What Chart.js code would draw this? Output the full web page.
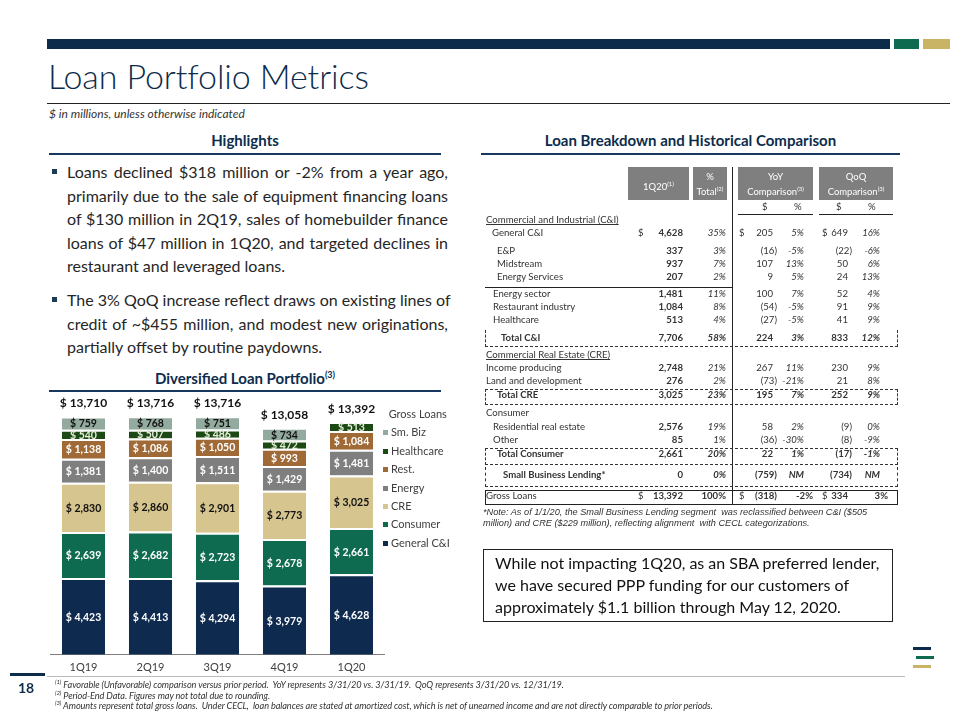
<!DOCTYPE html>
<html lang="en">
<head>
<meta charset="UTF-8">
<title>Loan Portfolio Metrics</title>
<script src="https://cdn.jsdelivr.net/npm/chart.js@4"></script>
<style>
  body { margin: 0; width: 960px; height: 720px; position: relative; background: #fff; font-family: Lato, "Open Sans", sans-serif; color: #262626; overflow: hidden; }
  .abs { position: absolute; }
  .navy { color: #0d2c4c; }
  .head { font-weight: bold; color: #0d2c4c; font-size: 15px; text-align: center; }
  .bullets { left: 52px; top: 160px; width: 396px; font-size: 16px; line-height: 23.6px; color: #262626; }
  .bullets p { margin: 0 0 10px 0; padding-left: 15px; position: relative; }
  .bullets p:before { content: ""; position: absolute; left: 0; top: 9px; width: 5px; height: 5px; background: #1f3a55; }
  .bullets span { display: block; white-space: nowrap; text-align: justify; text-align-last: justify; }
  .bullets span.last { text-align: left; text-align-last: left; }
  .legend { left: 383px; top: 406px; font-size: 11px; color: #404040; }
  .legend div { height: 18.4px; line-height: 16px; white-space: nowrap; }
  .legend span { display: inline-block; width: 5px; height: 5px; margin-right: 3px; vertical-align: 1px; }
  .tbl { font-size: 9.6px; color: #333; }
  .tbl div { position: absolute; white-space: nowrap; }
  .hbox { background: #7f7f7f; color: #fff; text-align: center; font-size: 9.5px; line-height: 12px; }
  .hbox sup { font-size: 6px; }
  .dot { border: 1px dashed #333; }
  .foot { font-size: 9.2px; font-style: italic; color: #333; left: 55px; white-space: nowrap; letter-spacing: -0.1px; }
  .foot sup { font-size: 6px; }
</style>
</head>
<body>
<!-- top bars -->
<div class="abs" style="left:47px;top:39px;width:843px;height:10px;background:#0d2c4c"></div>
<div class="abs" style="left:894px;top:39px;width:25px;height:10px;background:#0f6b50"></div>
<div class="abs" style="left:923px;top:39px;width:27px;height:10px;background:#c9b466"></div>

<div class="abs navy" style="left:48px;top:55px;font-size:34px;font-weight:300;letter-spacing:-0.1px">Loan Portfolio Metrics</div>
<div class="abs" style="left:47px;top:103px;width:903px;height:1px;background:#222"></div>
<div class="abs" style="left:49px;top:106px;font-size:12px;font-style:italic;color:#333">$ in millions, unless otherwise indicated</div>

<!-- left column -->
<div class="abs head" style="left:49px;top:131px;width:392px">Highlights</div>
<div class="abs" style="left:49px;top:153px;width:392px;height:2px;background:#17375e"></div>
<div class="abs bullets">
  <p><span>Loans declined $318 million or -2% from a year ago,</span><span>primarily due to the sale of equipment financing loans</span><span>of $130 million in 2Q19, sales of homebuilder finance</span><span>loans of $47 million in 1Q20, and targeted declines in</span><span class="last">restaurant and leveraged loans.</span></p>
  <p><span>The 3% QoQ increase reflect draws on existing lines of</span><span>credit of ~$455 million, and modest new originations,</span><span class="last">partially offset by routine paydowns.</span></p>
</div>
<div class="abs head" style="left:49px;top:369px;width:392px">Diversified Loan Portfolio<sup style="font-size:9px">(3)</sup></div>
<div class="abs" style="left:49px;top:390px;width:392px;height:2px;background:#17375e"></div>

<canvas id="loanChart" class="abs" style="left:50px;top:394px" width="335" height="286"></canvas>
<div class="abs legend" id="legend"></div>

<!-- right column -->
<div class="abs head" style="left:481px;top:131px;width:419px">Loan Breakdown and Historical Comparison</div>
<div class="abs" style="left:481px;top:153px;width:419px;height:2px;background:#17375e"></div>
<div class="abs tbl" id="tbl" style="left:0;top:0;width:960px;height:720px"></div>

<div class="abs" style="left:483px;top:549px;width:408px;height:71px;border:1px solid #222;"></div>
<div class="abs" style="left:495px;top:552px;font-size:16px;line-height:22px;color:#111">While not impacting 1Q20, as an SBA preferred lender,<br>we have secured PPP funding for our customers of<br>approximately $1.1 billion through May 12, 2020.</div>

<!-- footer -->
<div class="abs" style="left:10px;top:673px;width:35px;height:3px;background:#0d2c4c"></div>
<div class="abs" style="left:47px;top:676px;width:858px;height:1px;background:#bbb"></div>
<div class="abs navy" style="left:18px;top:679px;font-size:14px;font-weight:bold">18</div>
<div class="abs foot" style="top:678px"><sup>(1)</sup> Favorable (Unfavorable) comparison versus prior period.&nbsp; YoY represents 3/31/20 vs. 3/31/19.&nbsp; QoQ represents 3/31/20 vs. 12/31/19.</div>
<div class="abs foot" style="top:689px"><sup>(2)</sup> Period-End Data. Figures may not total due to rounding.</div>
<div class="abs foot" style="top:699px"><sup>(3)</sup> Amounts represent total gross loans.&nbsp; Under CECL,&nbsp; loan balances are stated at amortized cost, which is net of unearned income and are not directly comparable to prior periods.</div>
<div class="abs" style="left:913px;top:647px;width:18px;height:3px;background:#0d2c4c"></div>
<div class="abs" style="left:916px;top:656px;width:18px;height:3px;background:#0f6b50"></div>
<div class="abs" style="left:913px;top:665px;width:18px;height:3px;background:#c9b466"></div>

<script>
const quarters = ['1Q19', '2Q19', '3Q19', '4Q19', '1Q20'];
const generalCI = [4423, 4413, 4294, 3979, 4628];
const consumer = [2639, 2682, 2723, 2678, 2661];
const cre = [2830, 2860, 2901, 2773, 3025];
const energy = [1381, 1400, 1511, 1429, 1481];
const restaurant = [1138, 1086, 1050, 993, 1084];
const healthcare = [540, 507, 486, 472, 513];
const smallBiz = [759, 768, 751, 734, null];
const grossLoans = [13710, 13716, 13716, 13058, 13392];

const seriesNames = ['General C&I', 'Consumer', 'CRE', 'Energy', 'Rest.', 'Healthcare', 'Sm. Biz'];
const seriesData = [generalCI, consumer, cre, energy, restaurant, healthcare, smallBiz];
const seriesColors = ['#0e2a4f', '#0f6b50', '#d6c58e', '#7f7f7f', '#a06a36', '#1d4a14', '#93aa9f'];
const labelColors = ['#fff', '#fff', '#111', '#fff', '#fff', '#e6eedc', '#111'];

function money(v) { return '$ ' + v.toLocaleString('en-US'); }

// draws the value inside each segment and the gross loan total above each bar
const barLabels = {
    id: 'barLabels',
    afterDatasetsDraw(chart) {
        const ctx = chart.ctx;
        ctx.save();
        ctx.textAlign = 'center';
        ctx.textBaseline = 'middle';
        ctx.font = 'bold 10.5px Lato';
        chart.data.datasets.forEach((ds, i) => {
            chart.getDatasetMeta(i).data.forEach((bar, j) => {
                if (ds.data[j] == null) return;
                ctx.fillStyle = labelColors[i];
                ctx.fillText(money(ds.data[j]), bar.x, (bar.y + bar.base) / 2 + 1);
            });
        });
        ctx.font = 'bold 12px Lato';
        ctx.fillStyle = '#111';
        quarters.forEach((q, j) => {
            let top = null;
            chart.data.datasets.forEach((ds, i) => {
                if (ds.data[j] != null) top = chart.getDatasetMeta(i).data[j];
            });
            ctx.fillText(money(grossLoans[j]), top.x, top.y - 13);
        });
        ctx.restore();
    }
};

window.onload = function() {
    new Chart(document.getElementById('loanChart'), {
        type: 'bar',
        data: {
            labels: quarters,
            datasets: seriesNames.map((name, i) => ({
                label: name,
                data: seriesData[i],
                backgroundColor: seriesColors[i],
                borderColor: '#ffffff',
                borderWidth: { top: 2, bottom: 0, left: 0, right: 0 },
                borderSkipped: false,
                categoryPercentage: 1,
                barPercentage: 0.645
            }))
        },
        options: {
            responsive: false,
            animation: false,
            plugins: { legend: { display: false }, tooltip: { enabled: false } },
            scales: {
                x: {
                    stacked: true,
                    grid: { display: false, drawTicks: false },
                    border: { color: '#7f7f7f' },
                    ticks: { color: '#404040', font: { size: 11, family: 'Lato' }, padding: 6 }
                },
                y: { stacked: true, display: false, min: 0, max: 15000 }
            }
        },
        plugins: [barLabels]
    });

    // legend, top to bottom in reverse stacking order
    let lg = '<div>&nbsp;&nbsp;Gross Loans</div>';
    for (let i = seriesNames.length - 1; i >= 0; i--) {
        lg += '<div><span style="background:' + seriesColors[i] + '"></span>' + seriesNames[i].replace('&', '&amp;') + '</div>';
    }
    document.getElementById('legend').innerHTML = lg;

    // table
    const rows = [
        ['Commercial and Industrial (C&I)', 486, 221, null, 'u'],
        ['General C&I', 492, 234, ['4,628', '35%', '205', '5%', '649', '16%'], '$'],
        ['E&P', 497, 252, ['337', '3%', '(16)', '-5%', '(22)', '-6%']],
        ['Midstream', 497, 265, ['937', '7%', '107', '13%', '50', '6%']],
        ['Energy Services', 497, 278, ['207', '2%', '9', '5%', '24', '13%']],
        ['Energy sector', 493, 295, ['1,481', '11%', '100', '7%', '52', '4%']],
        ['Restaurant industry', 493, 308, ['1,084', '8%', '(54)', '-5%', '91', '9%']],
        ['Healthcare', 493, 321, ['513', '4%', '(27)', '-5%', '41', '9%']],
        ['Total C&I', 501, 339, ['7,706', '58%', '224', '3%', '833', '12%'], 'b'],
        ['Commercial Real Estate (CRE)', 486, 356, null, 'u'],
        ['Income producing', 486, 369, ['2,748', '21%', '267', '11%', '230', '9%']],
        ['Land and development', 486, 382, ['276', '2%', '(73)', '-21%', '21', '8%']],
        ['Total CRE', 497, 396, ['3,025', '23%', '195', '7%', '252', '9%'], 'b'],
        ['Consumer', 486, 414, null, ''],
        ['Residential real estate', 493, 428, ['2,576', '19%', '58', '2%', '(9)', '0%']],
        ['Other', 493, 441, ['85', '1%', '(36)', '-30%', '(8)', '-9%']],
        ['Total Consumer', 497, 455, ['2,661', '20%', '22', '1%', '(17)', '-1%'], 'b'],
        ['Small Business Lending*', 503, 476, ['0', '0%', '(759)', 'NM', '(734)', 'NM'], 'b'],
        ['Gross Loans', 486, 497, ['13,392', '100%', '(318)', '-2%', '334', '3%'], 'g']
    ];
    let h = '';
    h += '<div class="hbox" style="left:628px;top:167px;width:61px;height:33px;line-height:33px">1Q20<sup>(1)</sup></div>';
    h += '<div class="hbox" style="left:693px;top:167px;width:34px;height:33px;padding-top:0"><div style="position:static;margin-top:4px">%</div><div style="position:static">Total<sup>(2)</sup></div></div>';
    h += '<div class="hbox" style="left:738px;top:167px;width:75px;height:33px"><div style="position:static;margin-top:4px">YoY</div><div style="position:static">Comparison<sup>(3)</sup></div></div>';
    h += '<div class="hbox" style="left:819px;top:167px;width:74px;height:33px"><div style="position:static;margin-top:4px">QoQ</div><div style="position:static">Comparison<sup>(3)</sup></div></div>';
    h += '<div style="left:732px;top:167px;width:1px;height:337px;background:#222"></div>';
    [[762, '$'], [794, '%'], [836, '$'], [868, '%']].forEach(s => { h += '<div style="left:' + s[0] + 'px;top:201px">' + s[1] + '</div>'; });
    h += '<div style="left:738px;top:214px;width:75px;height:1px;background:#222"></div>';
    h += '<div style="left:819px;top:214px;width:74px;height:1px;background:#222"></div>';
    h += '<div style="left:485px;top:287px;width:247px;height:1px;background:#222"></div>';
    const right = [683, 726, 777, 804, 852, 880];
    rows.forEach(r => {
        const y = r[2] - 7;
        const bold = r[4] === 'b' || r[4] === 'g';
        let st = 'left:' + r[1] + 'px;top:' + y + 'px;';
        if (r[4] === 'u') st += 'text-decoration:underline;';
        if (r[4] === 'b') st += 'font-weight:bold;';
        h += '<div style="' + st + '">' + r[0].replace('&', '&amp;') + '</div>';
        if (!r[3]) return;
        r[3].forEach((v, k) => {
            let rx = right[k];
            const paren = v.charAt(0) === '(';
            if ((k === 2 || k === 4) && !paren) rx -= 4;
            if (r[4] === 'g') rx = [683, 726, 777, 813, 848, 888][k];
            const it = (k % 2 === 1 && r[4] !== 'g') ? 'font-style:italic;' : '';
            const bw = (k === 0 || bold) ? 'font-weight:bold;' : '';
            h += '<div style="right:' + (960 - rx) + 'px;top:' + y + 'px;' + it + bw + '">' + v + '</div>';
        });
        if (r[4] === '$' || r[4] === 'g') {
            [638, 739, 822].forEach(x => { h += '<div style="left:' + x + 'px;top:' + y + 'px;">$</div>'; });
        }
    });
    // dotted boxes around totals, solid box around gross loans
    h += '<div class="dot" style="left:485px;top:330px;width:411px;height:16px;border-top:none"></div>';
    h += '<div class="dot" style="left:485px;top:389px;width:411px;height:14px"></div>';
    h += '<div class="dot" style="left:485px;top:448px;width:411px;height:15px"></div>';
    h += '<div class="dot" style="left:485px;top:467px;width:411px;height:19px;border-top:none"></div>';
    h += '<div style="left:485px;top:490px;width:411px;height:13px;border:1px solid #222"></div>';
    h += '<div style="left:483px;top:507px;font-family:\'Liberation Sans\';font-style:italic;font-size:9.2px;line-height:10.5px;color:#333">*Note: As of 1/1/20, the Small Business Lending segment&nbsp; was reclassified between C&amp;I ($505<br>million) and CRE ($229 million), reflecting alignment&nbsp; with CECL categorizations.</div>';
    document.getElementById('tbl').innerHTML = h;
};
</script>
</body>
</html>
